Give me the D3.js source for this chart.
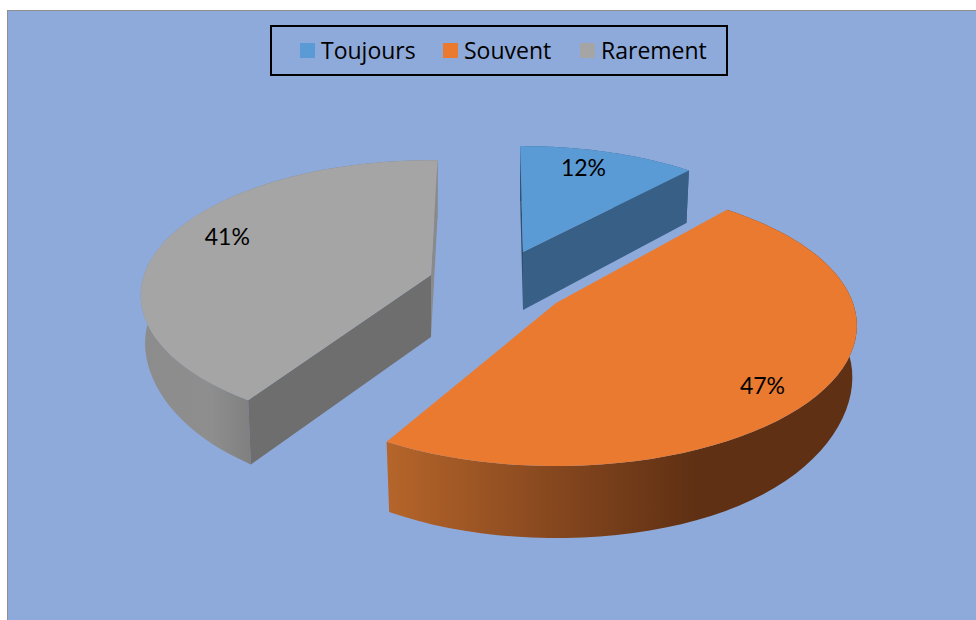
<!DOCTYPE html>
<html>
<head>
<meta charset="utf-8">
<script src="https://d3js.org/d3.v7.min.js"></script>
<style>
  html, body { margin: 0; padding: 0; background: #fff; }
  svg { display: block; }
  .legend text { font-family: "Open Sans", sans-serif; font-size: 23px; fill: #000; }
  .pct { font-family: Lato, sans-serif; font-size: 23px; fill: #000; text-anchor: middle; }
</style>
</head>
<body>
<svg width="976" height="620"></svg>
<script>
// data
var categories = ["Toujours", "Souvent", "Rarement"];
var shares = [12, 47, 41];

var topColors = ["#5b9bd5", "#ea7a30", "#a5a5a5"];

// each exploded slice sits around its own tip
var tips = [[523, 252], [556, 303], [431, 275]];
var radiiX = [280, 297, 287];
var radiiY = [126, 137, 132];
var depths = [58, 67, 62];
var turns = [-0.7, -3, 1.5];
var persp = [0.19, 0.16, 0.15];
var labelSpots = [[18, 0.8], [131, 0.84], [292, 0.8]];
// the orange cut faces are hidden under its top
var showCuts = [true, false, true];

var bottomSx = 0.985, bottomSy = 1.03, sideShrink = 0.25;
var rad = Math.PI / 180;

var svg = d3.select("svg");

svg.append("rect").attr("x", 7.5).attr("y", 10.5).attr("width", 975).attr("height", 620)
  .attr("fill", "#8eaadb").attr("stroke", "#8f8f8f");

var slices = d3.pie().sort(null).value(function(d) { return d; })(shares);

// tilted, slightly perspective view of a point on the pie disc
function project(i, a, frac, bottom) {
  var u = Math.sin(a) * frac, v = -Math.cos(a) * frac;
  var w = 1 / (1 - persp[i] * v);
  var x = radiiX[i] * u * w, y = radiiY[i] * v * w;
  if (bottom) {
    // the wall looks a bit shorter right at the sides of the disc
    var d = depths[i] * (1 - sideShrink * Math.pow(u, 4));
    x *= bottomSx; y = y * bottomSy + d;
  }
  return [tips[i][0] + x, tips[i][1] + y];
}

function rim(i, s, bottom) {
  var n = 60;
  return d3.range(n + 1).map(function(k) {
    return project(i, s.startAngle + turns[i] * rad + (s.endAngle - s.startAngle) * k / n, 1, bottom);
  });
}

var line = d3.line();

var defs = svg.append("defs");
function wallGradient(id, x1, x2, stops) {
  var g = defs.append("linearGradient").attr("id", id)
    .attr("gradientUnits", "userSpaceOnUse")
    .attr("x1", x1).attr("x2", x2).attr("y1", 0).attr("y2", 0);
  stops.forEach(function(s) {
    g.append("stop").attr("offset", s[0]).attr("stop-color", s[1]);
  });
}
wallGradient("wall0", 520, 690, [[0, "#385f85"], [1, "#385f85"]]);
wallGradient("wall1", 388, 855, [[0, "#b5652a"], [0.37, "#84461e"], [0.66, "#5f3013"], [1, "#5f3013"]]);
wallGradient("wall2", 145, 255, [[0, "#8c8c8c"], [0.6, "#8e8e8e"], [1, "#7e7e7e"]]);

var innerColors = [["#2f5070", "#385f85"], ["#5f3013", "#5f3013"], ["#6e6e6e", "#8a8a8a"]];

// draw back to front: outer wall, cut walls, then the top face
var order = [0, 2, 1];
order.forEach(function(i) {
  var s = slices[i];
  var g = svg.append("g");

  var outer = rim(i, s, false).concat(rim(i, s, true).reverse());
  g.append("path").attr("d", line(outer) + "Z").attr("fill", "url(#wall" + i + ")");

  if (showCuts[i]) {
    var tipT = tips[i];
    var tipB = project(i, 0, 0, true);
    [s.startAngle, s.endAngle].forEach(function(a, e) {
      var t = a + turns[i] * rad;
      var pts = [tipT, project(i, t, 1, false), project(i, t, 1, true), tipB];
      g.append("path").attr("d", line(pts) + "Z").attr("fill", innerColors[i][e]);
    });
  }

  g.append("path").attr("d", line([tips[i]].concat(rim(i, s, false))) + "Z").attr("fill", topColors[i]);
});

// percentage labels
slices.forEach(function(s, i) {
  var p = project(i, labelSpots[i][0] * rad, labelSpots[i][1], false);
  svg.append("text").attr("class", "pct").attr("x", p[0]).attr("y", p[1] + 8).text(shares[i] + "%");
});

// legend
var legendX = [300, 443, 580];
svg.append("rect").attr("x", 271).attr("y", 26).attr("width", 456).attr("height", 49)
  .attr("fill", "none").attr("stroke", "#000").attr("stroke-width", 2);
var items = svg.append("g").attr("class", "legend").selectAll("g").data(categories).enter().append("g")
  .attr("transform", function(d, i) { return "translate(" + legendX[i] + ",43)"; });
items.append("rect").attr("width", 15).attr("height", 15)
  .attr("fill", function(d, i) { return topColors[i]; });
items.append("text").attr("x", 21).attr("y", 16).text(function(d) { return d; });
</script>
</body>
</html>
